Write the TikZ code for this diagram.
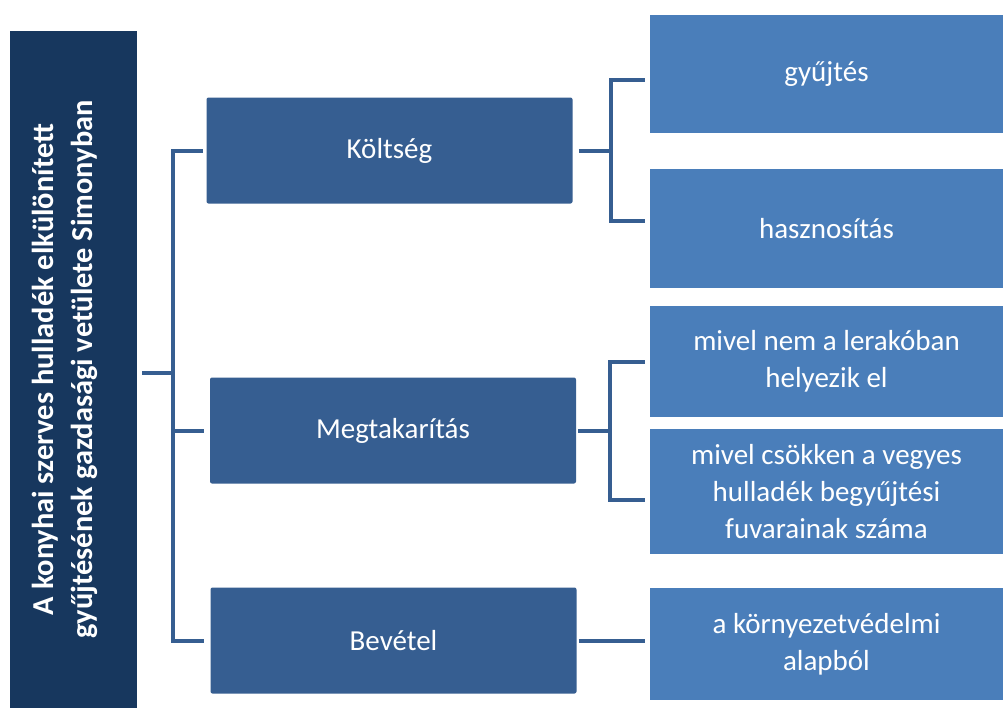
\documentclass[tikz,border=0pt]{standalone}
\usepackage{fontspec}
\setmainfont{Carlito}
\usepackage{graphicx}
\usetikzlibrary{positioning}

\definecolor{titleblue}{HTML}{17375E}
\definecolor{midblue}{HTML}{365E91}
\definecolor{leafblue}{HTML}{4A7EBA}

\begin{document}
\begin{tikzpicture}[x=0.5pt, y=-0.5pt,
   title/.style={fill=titleblue, text=white, inner sep=0pt,
      font=\fontsize{15.2pt}{19.5pt}\selectfont\bfseries,
      minimum width=63.5pt, minimum height=338.5pt},
   topic/.style={fill=midblue, text=white, rounded corners=1pt,
      font=\fontsize{14.5pt}{18.5pt}\selectfont,
      minimum width=183pt, minimum height=53pt},
   leaf/.style={fill=leafblue, text=white, align=center,
      font=\fontsize{14.5pt}{18.5pt}\selectfont, minimum width=176.5pt},
   link/.style={draw=midblue, line width=2pt}]
   \useasboundingbox (0,0) rectangle (1003,708);

   % main topic
   \node[title] (title) at (73.5,369.5) {\hspace*{-8pt}\rotatebox{90}{\begin{tabular}{@{}c@{}}A konyhai szerves hulladék elkülönített\\gyűjtésének gazdasági vetülete Simonyban\end{tabular}}};

   % second level
   \node[topic] (cost) at (389.5,150.5) {Költség};
   \node[topic] (saving) at (393,430.5) {Megtakarítás};
   \node[topic] (income) at (393.5,640.5) {Bevétel};

   % third level
   \node[leaf, minimum height=59pt] (collect) at (826.5,74) {gyűjtés};
   \node[leaf, minimum height=59.5pt] (recover) at (826.5,228.5) {hasznosítás};
   \node[leaf, minimum height=55.5pt] (landfill) at (826.5,361.5) {mivel nem a lerakóban\\helyezik el};
   \node[leaf, minimum height=62.5pt] (trips) at (826.5,491.5) {mivel csökken a vegyes\\hulladék begyűjtési\\fuvarainak száma};
   \node[leaf, minimum height=56pt] (fund) at (826.5,644) {a környezetvédelmi\\alapból};

   % brackets
   \coordinate (hub) at (173,373);
   \draw[link] ([xshift=2.5pt]title.east |- hub) -- (hub);
   \draw[link] ([xshift=-1.5pt]cost.west) -| (hub) |- ([xshift=-3pt]income.west);
   \draw[link] (hub |- saving.west) -- ([xshift=-3pt]saving.west);

   \draw[link] ([xshift=3pt]cost.east) -- ([xshift=19pt]cost.east);
   \draw[link] ([xshift=-2.5pt,yshift=-3pt]collect.west) -| ([xshift=19pt]cost.east) |- ([xshift=-2.5pt,yshift=4pt]recover.west);
   \draw[link] ([xshift=1pt]saving.east) -- ([xshift=17pt]saving.east);
   \draw[link] ([xshift=-2.5pt]landfill.west) -| ([xshift=17pt]saving.east) |- ([xshift=-2.5pt,yshift=-4pt]trips.west);
   \draw[link] ([xshift=1pt]income.east) -- ([xshift=-2.5pt]fund.west |- income.east);
\end{tikzpicture}
\end{document}
